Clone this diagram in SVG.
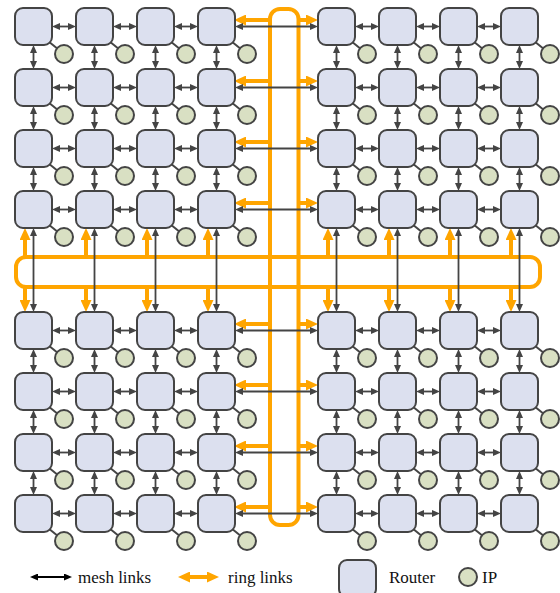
<svg xmlns="http://www.w3.org/2000/svg" width="560" height="593" viewBox="0 0 560 593">
<defs>
<style>
.router{fill:#dce0ef;stroke:#444;stroke-width:2}
.ip{fill:#d9e0c3;stroke:#444;stroke-width:2}
.ipl{stroke:#444;stroke-width:2}
.m{stroke:#444;stroke-width:1.8;marker-start:url(#ab);marker-end:url(#ab)}
.o{stroke:#FFA500;stroke-width:4;marker-end:url(#ao)}
.ring{fill:none;stroke:#FFA500;stroke-width:4}
.lbl{font-family:"Liberation Serif","Times New Roman",serif;font-size:17px;fill:#111}
</style>
<marker id="ab" markerUnits="userSpaceOnUse" markerWidth="8" markerHeight="7" refX="2.5" refY="3.5" orient="auto-start-reverse"><path d="M0,0L8,3.5L0,7z" fill="#444"/></marker>
<marker id="abk" markerUnits="userSpaceOnUse" markerWidth="8" markerHeight="7" refX="2" refY="3.5" orient="auto-start-reverse"><path d="M0,0L8,3.5L0,7z" fill="#000"/></marker>
<marker id="ao" markerUnits="userSpaceOnUse" markerWidth="12" markerHeight="11" refX="3" refY="5.5" orient="auto-start-reverse"><path d="M0,0L12,5.5L0,11z" fill="#FFA500"/></marker>
</defs>
<g id="rings">
<rect class="ring" x="16" y="257" width="524" height="30" rx="10"/>
<rect class="ring" x="270" y="9" width="28.5" height="516" rx="10"/>
</g>
<g id="connectors">
<g id="ring-links">
<line class="o" x1="270" y1="20" x2="243" y2="20"/><line class="o" x1="298.5" y1="20" x2="309" y2="20"/>
<line class="o" x1="270" y1="81" x2="243" y2="81"/><line class="o" x1="298.5" y1="81" x2="309" y2="81"/>
<line class="o" x1="270" y1="142" x2="243" y2="142"/><line class="o" x1="298.5" y1="142" x2="309" y2="142"/>
<line class="o" x1="270" y1="203" x2="243" y2="203"/><line class="o" x1="298.5" y1="203" x2="309" y2="203"/>
<line class="o" x1="270" y1="324" x2="243" y2="324"/><line class="o" x1="298.5" y1="324" x2="309" y2="324"/>
<line class="o" x1="270" y1="385" x2="243" y2="385"/><line class="o" x1="298.5" y1="385" x2="309" y2="385"/>
<line class="o" x1="270" y1="446" x2="243" y2="446"/><line class="o" x1="298.5" y1="446" x2="309" y2="446"/>
<line class="o" x1="270" y1="507" x2="243" y2="507"/><line class="o" x1="298.5" y1="507" x2="309" y2="507"/>
<line class="o" x1="25" y1="257" x2="25" y2="237"/><line class="o" x1="25" y1="287" x2="25" y2="303"/>
<line class="o" x1="86" y1="257" x2="86" y2="237"/><line class="o" x1="86" y1="287" x2="86" y2="303"/>
<line class="o" x1="147" y1="257" x2="147" y2="237"/><line class="o" x1="147" y1="287" x2="147" y2="303"/>
<line class="o" x1="208" y1="257" x2="208" y2="237"/><line class="o" x1="208" y1="287" x2="208" y2="303"/>
<line class="o" x1="328" y1="257" x2="328" y2="237"/><line class="o" x1="328" y1="287" x2="328" y2="303"/>
<line class="o" x1="389" y1="257" x2="389" y2="237"/><line class="o" x1="389" y1="287" x2="389" y2="303"/>
<line class="o" x1="450" y1="257" x2="450" y2="237"/><line class="o" x1="450" y1="287" x2="450" y2="303"/>
<line class="o" x1="511" y1="257" x2="511" y2="237"/><line class="o" x1="511" y1="287" x2="511" y2="303"/>
</g>
<g id="mesh-h">
<line class="m" x1="57.5" y1="26.5" x2="70.5" y2="26.5"/><line class="m" x1="118.5" y1="26.5" x2="131.5" y2="26.5"/><line class="m" x1="179.5" y1="26.5" x2="192.5" y2="26.5"/><line class="m" x1="240.5" y1="26.5" x2="312.5" y2="26.5"/><line class="m" x1="360.5" y1="26.5" x2="373.5" y2="26.5"/><line class="m" x1="421.5" y1="26.5" x2="434.5" y2="26.5"/><line class="m" x1="482.5" y1="26.5" x2="495.5" y2="26.5"/>
<line class="m" x1="57.5" y1="87.5" x2="70.5" y2="87.5"/><line class="m" x1="118.5" y1="87.5" x2="131.5" y2="87.5"/><line class="m" x1="179.5" y1="87.5" x2="192.5" y2="87.5"/><line class="m" x1="240.5" y1="87.5" x2="312.5" y2="87.5"/><line class="m" x1="360.5" y1="87.5" x2="373.5" y2="87.5"/><line class="m" x1="421.5" y1="87.5" x2="434.5" y2="87.5"/><line class="m" x1="482.5" y1="87.5" x2="495.5" y2="87.5"/>
<line class="m" x1="57.5" y1="148.5" x2="70.5" y2="148.5"/><line class="m" x1="118.5" y1="148.5" x2="131.5" y2="148.5"/><line class="m" x1="179.5" y1="148.5" x2="192.5" y2="148.5"/><line class="m" x1="240.5" y1="148.5" x2="312.5" y2="148.5"/><line class="m" x1="360.5" y1="148.5" x2="373.5" y2="148.5"/><line class="m" x1="421.5" y1="148.5" x2="434.5" y2="148.5"/><line class="m" x1="482.5" y1="148.5" x2="495.5" y2="148.5"/>
<line class="m" x1="57.5" y1="209.5" x2="70.5" y2="209.5"/><line class="m" x1="118.5" y1="209.5" x2="131.5" y2="209.5"/><line class="m" x1="179.5" y1="209.5" x2="192.5" y2="209.5"/><line class="m" x1="240.5" y1="209.5" x2="312.5" y2="209.5"/><line class="m" x1="360.5" y1="209.5" x2="373.5" y2="209.5"/><line class="m" x1="421.5" y1="209.5" x2="434.5" y2="209.5"/><line class="m" x1="482.5" y1="209.5" x2="495.5" y2="209.5"/>
<line class="m" x1="57.5" y1="330.5" x2="70.5" y2="330.5"/><line class="m" x1="118.5" y1="330.5" x2="131.5" y2="330.5"/><line class="m" x1="179.5" y1="330.5" x2="192.5" y2="330.5"/><line class="m" x1="240.5" y1="330.5" x2="312.5" y2="330.5"/><line class="m" x1="360.5" y1="330.5" x2="373.5" y2="330.5"/><line class="m" x1="421.5" y1="330.5" x2="434.5" y2="330.5"/><line class="m" x1="482.5" y1="330.5" x2="495.5" y2="330.5"/>
<line class="m" x1="57.5" y1="391.5" x2="70.5" y2="391.5"/><line class="m" x1="118.5" y1="391.5" x2="131.5" y2="391.5"/><line class="m" x1="179.5" y1="391.5" x2="192.5" y2="391.5"/><line class="m" x1="240.5" y1="391.5" x2="312.5" y2="391.5"/><line class="m" x1="360.5" y1="391.5" x2="373.5" y2="391.5"/><line class="m" x1="421.5" y1="391.5" x2="434.5" y2="391.5"/><line class="m" x1="482.5" y1="391.5" x2="495.5" y2="391.5"/>
<line class="m" x1="57.5" y1="452.5" x2="70.5" y2="452.5"/><line class="m" x1="118.5" y1="452.5" x2="131.5" y2="452.5"/><line class="m" x1="179.5" y1="452.5" x2="192.5" y2="452.5"/><line class="m" x1="240.5" y1="452.5" x2="312.5" y2="452.5"/><line class="m" x1="360.5" y1="452.5" x2="373.5" y2="452.5"/><line class="m" x1="421.5" y1="452.5" x2="434.5" y2="452.5"/><line class="m" x1="482.5" y1="452.5" x2="495.5" y2="452.5"/>
<line class="m" x1="57.5" y1="513.5" x2="70.5" y2="513.5"/><line class="m" x1="118.5" y1="513.5" x2="131.5" y2="513.5"/><line class="m" x1="179.5" y1="513.5" x2="192.5" y2="513.5"/><line class="m" x1="240.5" y1="513.5" x2="312.5" y2="513.5"/><line class="m" x1="360.5" y1="513.5" x2="373.5" y2="513.5"/><line class="m" x1="421.5" y1="513.5" x2="434.5" y2="513.5"/><line class="m" x1="482.5" y1="513.5" x2="495.5" y2="513.5"/>
</g>
<g id="mesh-v">
<line class="m" x1="33.5" y1="50.5" x2="33.5" y2="63.5"/><line class="m" x1="33.5" y1="111.5" x2="33.5" y2="124.5"/><line class="m" x1="33.5" y1="172.5" x2="33.5" y2="185.5"/><line class="m" x1="33.5" y1="233.5" x2="33.5" y2="306.5"/><line class="m" x1="33.5" y1="354.5" x2="33.5" y2="367.5"/><line class="m" x1="33.5" y1="415.5" x2="33.5" y2="428.5"/><line class="m" x1="33.5" y1="476.5" x2="33.5" y2="489.5"/>
<line class="m" x1="94.5" y1="50.5" x2="94.5" y2="63.5"/><line class="m" x1="94.5" y1="111.5" x2="94.5" y2="124.5"/><line class="m" x1="94.5" y1="172.5" x2="94.5" y2="185.5"/><line class="m" x1="94.5" y1="233.5" x2="94.5" y2="306.5"/><line class="m" x1="94.5" y1="354.5" x2="94.5" y2="367.5"/><line class="m" x1="94.5" y1="415.5" x2="94.5" y2="428.5"/><line class="m" x1="94.5" y1="476.5" x2="94.5" y2="489.5"/>
<line class="m" x1="155.5" y1="50.5" x2="155.5" y2="63.5"/><line class="m" x1="155.5" y1="111.5" x2="155.5" y2="124.5"/><line class="m" x1="155.5" y1="172.5" x2="155.5" y2="185.5"/><line class="m" x1="155.5" y1="233.5" x2="155.5" y2="306.5"/><line class="m" x1="155.5" y1="354.5" x2="155.5" y2="367.5"/><line class="m" x1="155.5" y1="415.5" x2="155.5" y2="428.5"/><line class="m" x1="155.5" y1="476.5" x2="155.5" y2="489.5"/>
<line class="m" x1="216.5" y1="50.5" x2="216.5" y2="63.5"/><line class="m" x1="216.5" y1="111.5" x2="216.5" y2="124.5"/><line class="m" x1="216.5" y1="172.5" x2="216.5" y2="185.5"/><line class="m" x1="216.5" y1="233.5" x2="216.5" y2="306.5"/><line class="m" x1="216.5" y1="354.5" x2="216.5" y2="367.5"/><line class="m" x1="216.5" y1="415.5" x2="216.5" y2="428.5"/><line class="m" x1="216.5" y1="476.5" x2="216.5" y2="489.5"/>
<line class="m" x1="336.5" y1="50.5" x2="336.5" y2="63.5"/><line class="m" x1="336.5" y1="111.5" x2="336.5" y2="124.5"/><line class="m" x1="336.5" y1="172.5" x2="336.5" y2="185.5"/><line class="m" x1="336.5" y1="233.5" x2="336.5" y2="306.5"/><line class="m" x1="336.5" y1="354.5" x2="336.5" y2="367.5"/><line class="m" x1="336.5" y1="415.5" x2="336.5" y2="428.5"/><line class="m" x1="336.5" y1="476.5" x2="336.5" y2="489.5"/>
<line class="m" x1="397.5" y1="50.5" x2="397.5" y2="63.5"/><line class="m" x1="397.5" y1="111.5" x2="397.5" y2="124.5"/><line class="m" x1="397.5" y1="172.5" x2="397.5" y2="185.5"/><line class="m" x1="397.5" y1="233.5" x2="397.5" y2="306.5"/><line class="m" x1="397.5" y1="354.5" x2="397.5" y2="367.5"/><line class="m" x1="397.5" y1="415.5" x2="397.5" y2="428.5"/><line class="m" x1="397.5" y1="476.5" x2="397.5" y2="489.5"/>
<line class="m" x1="458.5" y1="50.5" x2="458.5" y2="63.5"/><line class="m" x1="458.5" y1="111.5" x2="458.5" y2="124.5"/><line class="m" x1="458.5" y1="172.5" x2="458.5" y2="185.5"/><line class="m" x1="458.5" y1="233.5" x2="458.5" y2="306.5"/><line class="m" x1="458.5" y1="354.5" x2="458.5" y2="367.5"/><line class="m" x1="458.5" y1="415.5" x2="458.5" y2="428.5"/><line class="m" x1="458.5" y1="476.5" x2="458.5" y2="489.5"/>
<line class="m" x1="519.5" y1="50.5" x2="519.5" y2="63.5"/><line class="m" x1="519.5" y1="111.5" x2="519.5" y2="124.5"/><line class="m" x1="519.5" y1="172.5" x2="519.5" y2="185.5"/><line class="m" x1="519.5" y1="233.5" x2="519.5" y2="306.5"/><line class="m" x1="519.5" y1="354.5" x2="519.5" y2="367.5"/><line class="m" x1="519.5" y1="415.5" x2="519.5" y2="428.5"/><line class="m" x1="519.5" y1="476.5" x2="519.5" y2="489.5"/>
</g>
</g>
<g id="nodes">
<g id="n11" transform="translate(15,8)"><path class="ipl" d="M33 33L49 46"/><rect class="router" width="37" height="37" rx="8"/><circle class="ip" cx="49" cy="46" r="9"/></g>
<g id="n12" transform="translate(76,8)"><path class="ipl" d="M33 33L49 46"/><rect class="router" width="37" height="37" rx="8"/><circle class="ip" cx="49" cy="46" r="9"/></g>
<g id="n13" transform="translate(137,8)"><path class="ipl" d="M33 33L49 46"/><rect class="router" width="37" height="37" rx="8"/><circle class="ip" cx="49" cy="46" r="9"/></g>
<g id="n14" transform="translate(198,8)"><path class="ipl" d="M33 33L49 46"/><rect class="router" width="37" height="37" rx="8"/><circle class="ip" cx="49" cy="46" r="9"/></g>
<g id="n15" transform="translate(318,8)"><path class="ipl" d="M33 33L49 46"/><rect class="router" width="37" height="37" rx="8"/><circle class="ip" cx="49" cy="46" r="9"/></g>
<g id="n16" transform="translate(379,8)"><path class="ipl" d="M33 33L49 46"/><rect class="router" width="37" height="37" rx="8"/><circle class="ip" cx="49" cy="46" r="9"/></g>
<g id="n17" transform="translate(440,8)"><path class="ipl" d="M33 33L49 46"/><rect class="router" width="37" height="37" rx="8"/><circle class="ip" cx="49" cy="46" r="9"/></g>
<g id="n18" transform="translate(501,8)"><path class="ipl" d="M33 33L49 46"/><rect class="router" width="37" height="37" rx="8"/><circle class="ip" cx="49" cy="46" r="9"/></g>
<g id="n21" transform="translate(15,69)"><path class="ipl" d="M33 33L49 46"/><rect class="router" width="37" height="37" rx="8"/><circle class="ip" cx="49" cy="46" r="9"/></g>
<g id="n22" transform="translate(76,69)"><path class="ipl" d="M33 33L49 46"/><rect class="router" width="37" height="37" rx="8"/><circle class="ip" cx="49" cy="46" r="9"/></g>
<g id="n23" transform="translate(137,69)"><path class="ipl" d="M33 33L49 46"/><rect class="router" width="37" height="37" rx="8"/><circle class="ip" cx="49" cy="46" r="9"/></g>
<g id="n24" transform="translate(198,69)"><path class="ipl" d="M33 33L49 46"/><rect class="router" width="37" height="37" rx="8"/><circle class="ip" cx="49" cy="46" r="9"/></g>
<g id="n25" transform="translate(318,69)"><path class="ipl" d="M33 33L49 46"/><rect class="router" width="37" height="37" rx="8"/><circle class="ip" cx="49" cy="46" r="9"/></g>
<g id="n26" transform="translate(379,69)"><path class="ipl" d="M33 33L49 46"/><rect class="router" width="37" height="37" rx="8"/><circle class="ip" cx="49" cy="46" r="9"/></g>
<g id="n27" transform="translate(440,69)"><path class="ipl" d="M33 33L49 46"/><rect class="router" width="37" height="37" rx="8"/><circle class="ip" cx="49" cy="46" r="9"/></g>
<g id="n28" transform="translate(501,69)"><path class="ipl" d="M33 33L49 46"/><rect class="router" width="37" height="37" rx="8"/><circle class="ip" cx="49" cy="46" r="9"/></g>
<g id="n31" transform="translate(15,130)"><path class="ipl" d="M33 33L49 46"/><rect class="router" width="37" height="37" rx="8"/><circle class="ip" cx="49" cy="46" r="9"/></g>
<g id="n32" transform="translate(76,130)"><path class="ipl" d="M33 33L49 46"/><rect class="router" width="37" height="37" rx="8"/><circle class="ip" cx="49" cy="46" r="9"/></g>
<g id="n33" transform="translate(137,130)"><path class="ipl" d="M33 33L49 46"/><rect class="router" width="37" height="37" rx="8"/><circle class="ip" cx="49" cy="46" r="9"/></g>
<g id="n34" transform="translate(198,130)"><path class="ipl" d="M33 33L49 46"/><rect class="router" width="37" height="37" rx="8"/><circle class="ip" cx="49" cy="46" r="9"/></g>
<g id="n35" transform="translate(318,130)"><path class="ipl" d="M33 33L49 46"/><rect class="router" width="37" height="37" rx="8"/><circle class="ip" cx="49" cy="46" r="9"/></g>
<g id="n36" transform="translate(379,130)"><path class="ipl" d="M33 33L49 46"/><rect class="router" width="37" height="37" rx="8"/><circle class="ip" cx="49" cy="46" r="9"/></g>
<g id="n37" transform="translate(440,130)"><path class="ipl" d="M33 33L49 46"/><rect class="router" width="37" height="37" rx="8"/><circle class="ip" cx="49" cy="46" r="9"/></g>
<g id="n38" transform="translate(501,130)"><path class="ipl" d="M33 33L49 46"/><rect class="router" width="37" height="37" rx="8"/><circle class="ip" cx="49" cy="46" r="9"/></g>
<g id="n41" transform="translate(15,191)"><path class="ipl" d="M33 33L49 46"/><rect class="router" width="37" height="37" rx="8"/><circle class="ip" cx="49" cy="46" r="9"/></g>
<g id="n42" transform="translate(76,191)"><path class="ipl" d="M33 33L49 46"/><rect class="router" width="37" height="37" rx="8"/><circle class="ip" cx="49" cy="46" r="9"/></g>
<g id="n43" transform="translate(137,191)"><path class="ipl" d="M33 33L49 46"/><rect class="router" width="37" height="37" rx="8"/><circle class="ip" cx="49" cy="46" r="9"/></g>
<g id="n44" transform="translate(198,191)"><path class="ipl" d="M33 33L49 46"/><rect class="router" width="37" height="37" rx="8"/><circle class="ip" cx="49" cy="46" r="9"/></g>
<g id="n45" transform="translate(318,191)"><path class="ipl" d="M33 33L49 46"/><rect class="router" width="37" height="37" rx="8"/><circle class="ip" cx="49" cy="46" r="9"/></g>
<g id="n46" transform="translate(379,191)"><path class="ipl" d="M33 33L49 46"/><rect class="router" width="37" height="37" rx="8"/><circle class="ip" cx="49" cy="46" r="9"/></g>
<g id="n47" transform="translate(440,191)"><path class="ipl" d="M33 33L49 46"/><rect class="router" width="37" height="37" rx="8"/><circle class="ip" cx="49" cy="46" r="9"/></g>
<g id="n48" transform="translate(501,191)"><path class="ipl" d="M33 33L49 46"/><rect class="router" width="37" height="37" rx="8"/><circle class="ip" cx="49" cy="46" r="9"/></g>
<g id="n51" transform="translate(15,312)"><path class="ipl" d="M33 33L49 46"/><rect class="router" width="37" height="37" rx="8"/><circle class="ip" cx="49" cy="46" r="9"/></g>
<g id="n52" transform="translate(76,312)"><path class="ipl" d="M33 33L49 46"/><rect class="router" width="37" height="37" rx="8"/><circle class="ip" cx="49" cy="46" r="9"/></g>
<g id="n53" transform="translate(137,312)"><path class="ipl" d="M33 33L49 46"/><rect class="router" width="37" height="37" rx="8"/><circle class="ip" cx="49" cy="46" r="9"/></g>
<g id="n54" transform="translate(198,312)"><path class="ipl" d="M33 33L49 46"/><rect class="router" width="37" height="37" rx="8"/><circle class="ip" cx="49" cy="46" r="9"/></g>
<g id="n55" transform="translate(318,312)"><path class="ipl" d="M33 33L49 46"/><rect class="router" width="37" height="37" rx="8"/><circle class="ip" cx="49" cy="46" r="9"/></g>
<g id="n56" transform="translate(379,312)"><path class="ipl" d="M33 33L49 46"/><rect class="router" width="37" height="37" rx="8"/><circle class="ip" cx="49" cy="46" r="9"/></g>
<g id="n57" transform="translate(440,312)"><path class="ipl" d="M33 33L49 46"/><rect class="router" width="37" height="37" rx="8"/><circle class="ip" cx="49" cy="46" r="9"/></g>
<g id="n58" transform="translate(501,312)"><path class="ipl" d="M33 33L49 46"/><rect class="router" width="37" height="37" rx="8"/><circle class="ip" cx="49" cy="46" r="9"/></g>
<g id="n61" transform="translate(15,373)"><path class="ipl" d="M33 33L49 46"/><rect class="router" width="37" height="37" rx="8"/><circle class="ip" cx="49" cy="46" r="9"/></g>
<g id="n62" transform="translate(76,373)"><path class="ipl" d="M33 33L49 46"/><rect class="router" width="37" height="37" rx="8"/><circle class="ip" cx="49" cy="46" r="9"/></g>
<g id="n63" transform="translate(137,373)"><path class="ipl" d="M33 33L49 46"/><rect class="router" width="37" height="37" rx="8"/><circle class="ip" cx="49" cy="46" r="9"/></g>
<g id="n64" transform="translate(198,373)"><path class="ipl" d="M33 33L49 46"/><rect class="router" width="37" height="37" rx="8"/><circle class="ip" cx="49" cy="46" r="9"/></g>
<g id="n65" transform="translate(318,373)"><path class="ipl" d="M33 33L49 46"/><rect class="router" width="37" height="37" rx="8"/><circle class="ip" cx="49" cy="46" r="9"/></g>
<g id="n66" transform="translate(379,373)"><path class="ipl" d="M33 33L49 46"/><rect class="router" width="37" height="37" rx="8"/><circle class="ip" cx="49" cy="46" r="9"/></g>
<g id="n67" transform="translate(440,373)"><path class="ipl" d="M33 33L49 46"/><rect class="router" width="37" height="37" rx="8"/><circle class="ip" cx="49" cy="46" r="9"/></g>
<g id="n68" transform="translate(501,373)"><path class="ipl" d="M33 33L49 46"/><rect class="router" width="37" height="37" rx="8"/><circle class="ip" cx="49" cy="46" r="9"/></g>
<g id="n71" transform="translate(15,434)"><path class="ipl" d="M33 33L49 46"/><rect class="router" width="37" height="37" rx="8"/><circle class="ip" cx="49" cy="46" r="9"/></g>
<g id="n72" transform="translate(76,434)"><path class="ipl" d="M33 33L49 46"/><rect class="router" width="37" height="37" rx="8"/><circle class="ip" cx="49" cy="46" r="9"/></g>
<g id="n73" transform="translate(137,434)"><path class="ipl" d="M33 33L49 46"/><rect class="router" width="37" height="37" rx="8"/><circle class="ip" cx="49" cy="46" r="9"/></g>
<g id="n74" transform="translate(198,434)"><path class="ipl" d="M33 33L49 46"/><rect class="router" width="37" height="37" rx="8"/><circle class="ip" cx="49" cy="46" r="9"/></g>
<g id="n75" transform="translate(318,434)"><path class="ipl" d="M33 33L49 46"/><rect class="router" width="37" height="37" rx="8"/><circle class="ip" cx="49" cy="46" r="9"/></g>
<g id="n76" transform="translate(379,434)"><path class="ipl" d="M33 33L49 46"/><rect class="router" width="37" height="37" rx="8"/><circle class="ip" cx="49" cy="46" r="9"/></g>
<g id="n77" transform="translate(440,434)"><path class="ipl" d="M33 33L49 46"/><rect class="router" width="37" height="37" rx="8"/><circle class="ip" cx="49" cy="46" r="9"/></g>
<g id="n78" transform="translate(501,434)"><path class="ipl" d="M33 33L49 46"/><rect class="router" width="37" height="37" rx="8"/><circle class="ip" cx="49" cy="46" r="9"/></g>
<g id="n81" transform="translate(15,495)"><path class="ipl" d="M33 33L49 46"/><rect class="router" width="37" height="37" rx="8"/><circle class="ip" cx="49" cy="46" r="9"/></g>
<g id="n82" transform="translate(76,495)"><path class="ipl" d="M33 33L49 46"/><rect class="router" width="37" height="37" rx="8"/><circle class="ip" cx="49" cy="46" r="9"/></g>
<g id="n83" transform="translate(137,495)"><path class="ipl" d="M33 33L49 46"/><rect class="router" width="37" height="37" rx="8"/><circle class="ip" cx="49" cy="46" r="9"/></g>
<g id="n84" transform="translate(198,495)"><path class="ipl" d="M33 33L49 46"/><rect class="router" width="37" height="37" rx="8"/><circle class="ip" cx="49" cy="46" r="9"/></g>
<g id="n85" transform="translate(318,495)"><path class="ipl" d="M33 33L49 46"/><rect class="router" width="37" height="37" rx="8"/><circle class="ip" cx="49" cy="46" r="9"/></g>
<g id="n86" transform="translate(379,495)"><path class="ipl" d="M33 33L49 46"/><rect class="router" width="37" height="37" rx="8"/><circle class="ip" cx="49" cy="46" r="9"/></g>
<g id="n87" transform="translate(440,495)"><path class="ipl" d="M33 33L49 46"/><rect class="router" width="37" height="37" rx="8"/><circle class="ip" cx="49" cy="46" r="9"/></g>
<g id="n88" transform="translate(501,495)"><path class="ipl" d="M33 33L49 46"/><rect class="router" width="37" height="37" rx="8"/><circle class="ip" cx="49" cy="46" r="9"/></g>
</g>
<g id="legend">
<line x1="36" y1="577" x2="66" y2="577" stroke="#000" stroke-width="2" marker-start="url(#abk)" marker-end="url(#abk)"/>
<text class="lbl" x="78" y="583">mesh links</text>
<line x1="187" y1="577" x2="210" y2="577" stroke="#FFA500" stroke-width="4" marker-start="url(#ao)" marker-end="url(#ao)"/>
<text class="lbl" x="228" y="583">ring links</text>
<rect class="router" x="339" y="560" width="37" height="37" rx="8"/>
<text class="lbl" x="389" y="583">Router</text>
<circle class="ip" cx="468" cy="577" r="9"/>
<text class="lbl" x="482" y="583">IP</text>
</g>
</svg>
